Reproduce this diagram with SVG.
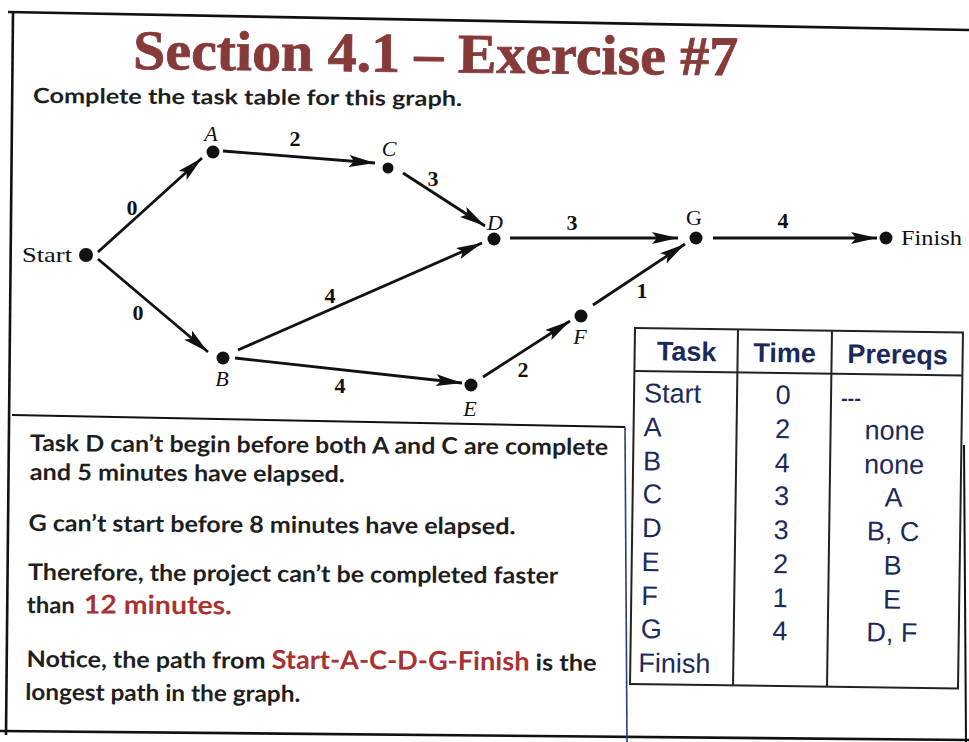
<svg xmlns="http://www.w3.org/2000/svg" width="969" height="742" viewBox="0 0 969 742">
<defs>
<marker id="arr" viewBox="0 0 26 12" refX="26" refY="6" markerWidth="26" markerHeight="12" markerUnits="userSpaceOnUse" orient="auto">
<path d="M0,0 L26,6 L0,12 L5,6 z" fill="#111"/>
</marker>
</defs>
<style>
.frame{stroke:#111;stroke-width:2.6;fill:none}
.blue{stroke:#2e3d7a;stroke-width:1.6;fill:none}
.edge{stroke:#111;stroke-width:2.8;fill:none;marker-end:url(#arr)}
.dot{fill:#111}
.nl{font-family:"Liberation Serif",serif;font-style:italic;font-size:22px;fill:#111;text-anchor:middle}
.nu{font-family:"Liberation Serif",serif;font-size:22px;fill:#111}
.el{font-family:"Liberation Serif",serif;font-weight:bold;font-size:22px;fill:#111;text-anchor:middle}
.title{font-family:"Liberation Serif",serif;font-weight:bold;font-size:56px;fill:#873a3a;stroke:#873a3a;stroke-width:0.8}
.body{font-family:Lato,"Liberation Sans",sans-serif;font-weight:bold;font-size:23px;fill:#1e1e1e}
.red{font-family:Lato,"Liberation Sans",sans-serif;font-weight:bold;font-size:26px;fill:#a83232}
.tbl{font-family:"Liberation Sans",Arial,sans-serif;font-size:27px;fill:#1b2a5a}
.th{font-weight:bold;text-anchor:middle}
.c{text-anchor:middle}
.grid{stroke:#222;stroke-width:2;fill:none}
</style>
<rect width="969" height="742" fill="#fff"/>
<g id="frame">
<line class="frame" x1="8" y1="12" x2="969" y2="30"/>
<line class="frame" x1="13" y1="12" x2="6" y2="735"/>
<line class="frame" x1="0" y1="731" x2="969" y2="740"/>
<line class="frame" x1="964" y1="445" x2="966" y2="742" style="stroke-width:2"/>
<line class="frame" x1="12" y1="415" x2="625" y2="427" style="stroke-width:2"/>
<line class="blue" x1="625" y1="427" x2="627" y2="742"/>
</g>
<g id="title">
<text class="title" x="133" y="69" textLength="605" lengthAdjust="spacingAndGlyphs" transform="rotate(0.6 133 69)">Section 4.1 – Exercise #7</text>
<text class="body" x="33" y="103" style="font-size:21px" textLength="429" lengthAdjust="spacingAndGlyphs" transform="rotate(0.4 33 103)">Complete the task table for this graph.</text>
</g>
<g id="connectors">
<line class="edge" x1="98" y1="252" x2="202" y2="158"/>
<line class="edge" x1="98" y1="259" x2="208" y2="352"/>
<line class="edge" x1="223" y1="151" x2="375" y2="163"/>
<line class="edge" x1="403" y1="173" x2="485" y2="226"/>
<line class="edge" x1="238" y1="350" x2="482" y2="243"/>
<line class="edge" x1="235" y1="358" x2="462" y2="383"/>
<line class="edge" x1="483" y1="377" x2="570" y2="321"/>
<line class="edge" x1="593" y1="305" x2="685" y2="244"/>
<line class="edge" x1="510" y1="238" x2="678" y2="238"/>
<line class="edge" x1="713" y1="238" x2="877" y2="238"/>
<text class="el" x="132" y="215">0</text>
<text class="el" x="138" y="320">0</text>
<text class="el" x="295" y="146">2</text>
<text class="el" x="433" y="186">3</text>
<text class="el" x="330" y="303">4</text>
<text class="el" x="340" y="393">4</text>
<text class="el" x="523" y="377">2</text>
<text class="el" x="642" y="298">1</text>
<text class="el" x="572" y="230">3</text>
<text class="el" x="783" y="228">4</text>
</g>
<g id="node-start"><circle class="dot" cx="86" cy="255" r="7"/><text class="nu" x="22" y="262" textLength="50" lengthAdjust="spacingAndGlyphs">Start</text></g>
<g id="node-a"><circle class="dot" cx="213" cy="152" r="6.5"/><text class="nl" x="211" y="141">A</text></g>
<g id="node-c"><circle class="dot" cx="388" cy="168" r="5.5"/><text class="nl" x="389" y="156">C</text></g>
<g id="node-d"><circle class="dot" cx="494" cy="239" r="6.5"/><text class="nl" x="495" y="230">D</text></g>
<g id="node-b"><circle class="dot" cx="223" cy="358" r="6.5"/><text class="nl" x="222" y="386">B</text></g>
<g id="node-e"><circle class="dot" cx="471" cy="385" r="6.5"/><text class="nl" x="470" y="416">E</text></g>
<g id="node-f"><circle class="dot" cx="581" cy="316" r="6.5"/><text class="nl" x="580" y="344">F</text></g>
<g id="node-g"><circle class="dot" cx="696" cy="238" r="6.5"/><text class="nu" x="694" y="225" text-anchor="middle">G</text></g>
<g id="node-finish"><circle class="dot" cx="886" cy="238" r="6.5"/><text class="nu" x="901" y="245" textLength="61" lengthAdjust="spacingAndGlyphs">Finish</text></g>
<g id="notes" transform="rotate(0.4 30 450)">
<text class="body" x="30" y="451" textLength="578" lengthAdjust="spacingAndGlyphs">Task D can’t begin before both A and C are complete</text>
<text class="body" x="30" y="480" textLength="315" lengthAdjust="spacingAndGlyphs">and 5 minutes have elapsed.</text>
<text class="body" x="29" y="531" textLength="487" lengthAdjust="spacingAndGlyphs">G can’t start before 8 minutes have elapsed.</text>
<text class="body" x="29" y="580" textLength="530" lengthAdjust="spacingAndGlyphs">Therefore, the project can’t be completed faster</text>
<text class="body" x="28" y="613" textLength="48" lengthAdjust="spacingAndGlyphs">than</text>
<text class="red" x="85" y="613" textLength="148" lengthAdjust="spacingAndGlyphs">12 minutes.</text>
<text class="body" x="28" y="667" textLength="239" lengthAdjust="spacingAndGlyphs">Notice, the path from</text>
<text class="red" x="273" y="667" textLength="258" lengthAdjust="spacingAndGlyphs">Start-A-C-D-G-Finish</text>
<text class="body" x="537" y="667" textLength="61" lengthAdjust="spacingAndGlyphs">is the</text>
<text class="body" x="27" y="700" textLength="275" lengthAdjust="spacingAndGlyphs">longest path in the graph.</text>
</g>
<g id="task-table" transform="rotate(0.8 635 328)">
<rect class="grid" x="635" y="328" width="328" height="356"/>
<line class="grid" x1="635" y1="371" x2="963" y2="371"/>
<line class="grid" x1="738" y1="328" x2="738" y2="684"/>
<line class="grid" x1="832" y1="328" x2="832" y2="684"/>
<text class="tbl th" x="687" y="360">Task</text>
<text class="tbl th" x="785" y="360">Time</text>
<text class="tbl th" x="898" y="360">Prereqs</text>
<text class="tbl" x="645" y="402">Start</text>
<text class="tbl" x="645" y="436">A</text>
<text class="tbl" x="645" y="470">B</text>
<text class="tbl" x="645" y="503">C</text>
<text class="tbl" x="645" y="537">D</text>
<text class="tbl" x="645" y="571">E</text>
<text class="tbl" x="645" y="605">F</text>
<text class="tbl" x="645" y="638">G</text>
<text class="tbl" x="643" y="672">Finish</text>
<text class="tbl c" x="784" y="402">0</text>
<text class="tbl c" x="784" y="436">2</text>
<text class="tbl c" x="784" y="470">4</text>
<text class="tbl c" x="784" y="503">3</text>
<text class="tbl c" x="784" y="537">3</text>
<text class="tbl c" x="784" y="571">2</text>
<text class="tbl c" x="784" y="605">1</text>
<text class="tbl c" x="784" y="638">4</text>
<text class="tbl" x="842" y="402" style="font-size:20px;font-weight:bold">---</text>
<text class="tbl c" x="896" y="436">none</text>
<text class="tbl c" x="896" y="470">none</text>
<text class="tbl c" x="896" y="503">A</text>
<text class="tbl c" x="896" y="537">B, C</text>
<text class="tbl c" x="896" y="571">B</text>
<text class="tbl c" x="896" y="605">E</text>
<text class="tbl c" x="896" y="638">D, F</text>
</g>
</svg>
